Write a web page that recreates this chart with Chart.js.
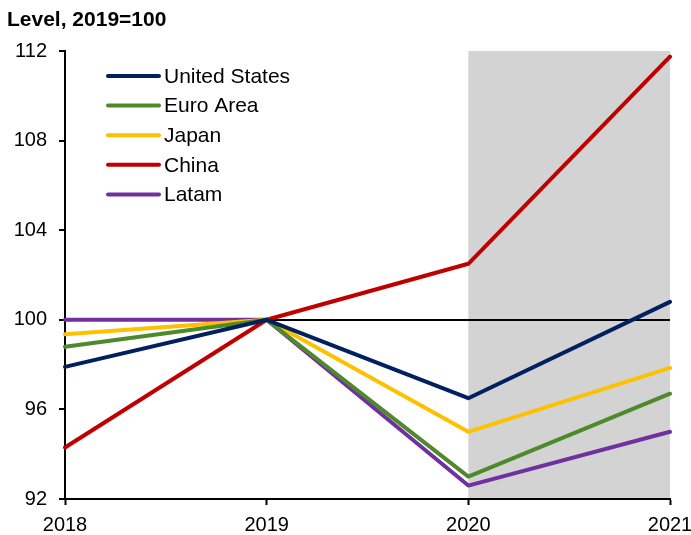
<!DOCTYPE html>
<html>
<head>
<meta charset="utf-8">
<script src="https://cdn.jsdelivr.net/npm/chart.js@4/dist/chart.umd.min.js"></script>
<style>
  html, body { margin: 0; padding: 0; background: #fff; }
  #wrap { width: 691px; height: 535px; }
</style>
</head>
<body>
<div id="wrap"><canvas id="levels"></canvas></div>
<script>
// Years on the x axis and the shaded forecast window
const years = ['2018', '2019', '2020', '2021'];
const shaded = ['2020', '2021'];

// Output levels, 2019 = 100
const unitedStates = [97.9, 100, 96.5, 100.8];
const euroArea = [98.8, 100, 93.0, 96.7];
const japan = [99.35, 100, 95.0, 97.85];
const china = [94.3, 100, 102.5, 111.75];
const latam = [100, 100, 92.6, 95.0];

const seriesNames = ['United States', 'Euro Area', 'Japan', 'China', 'Latam'];
const seriesColors = ['#002060', '#4E8A2B', '#FFC000', '#C00000', '#7030A0'];
const seriesValues = [unitedStates, euroArea, japan, china, latam];

// y axis ticks
const yTicks = [92, 96, 100, 104, 108, 112];

const FONT = '"Liberation Sans", Arial, sans-serif';

// grey band behind the forecast years (drawn before the grid so the 100 line stays on top)
const bandPlugin = {
  id: 'band',
  beforeDraw(chart) {
    const { ctx, chartArea, scales } = chart;
    const x0 = scales.x.getPixelForValue(years.indexOf(shaded[0]));
    const x1 = scales.x.getPixelForValue(years.indexOf(shaded[1]));
    ctx.save();
    ctx.fillStyle = '#D3D3D3';
    ctx.fillRect(x0, chartArea.top, x1 - x0, chartArea.bottom - chartArea.top);
    ctx.restore();
  }
};

// title above the axis and the legend inside the plot
const textPlugin = {
  id: 'texts',
  afterDraw(chart) {
    const ctx = chart.ctx;
    ctx.save();
    ctx.fillStyle = '#000';
    ctx.font = 'bold 21px ' + FONT;
    ctx.textBaseline = 'alphabetic';
    ctx.textAlign = 'left';
    ctx.fillText('Level, 2019=100', 7, 26);

    ctx.font = '21px ' + FONT;
    ctx.textBaseline = 'middle';
    chart.data.datasets.forEach((ds, i) => {
      const y = 76 + i * 29.6;
      ctx.strokeStyle = ds.borderColor;
      ctx.lineWidth = 4;
      ctx.lineCap = 'round';
      ctx.beginPath();
      ctx.moveTo(108, y);
      ctx.lineTo(159, y);
      ctx.stroke();
      ctx.fillStyle = '#000';
      ctx.fillText(ds.label, 164, y + 1);
    });
    ctx.restore();
  }
};

new Chart(document.getElementById('levels'), {
  type: 'line',
  data: {
    labels: years,
    datasets: seriesNames.map((name, i) => ({
      label: name,
      data: seriesValues[i],
      borderColor: seriesColors[i],
      backgroundColor: seriesColors[i],
      borderWidth: 4,
      borderCapStyle: 'round',
      borderJoinStyle: 'round',
      pointRadius: 0,
      tension: 0
    }))
  },
  options: {
    responsive: true,
    maintainAspectRatio: false,
    animation: false,
    layout: { padding: { left: 0, top: 51, right: 0, bottom: 0 } },
    plugins: {
      legend: { display: false },
      tooltip: { enabled: false }
    },
    scales: {
      x: {
        offset: false,
        afterFit(scale) {
          scale.height = 36;
          scale.paddingLeft = 0;
          scale.paddingRight = 21;
        },
        grid: {
          drawOnChartArea: false,
          tickLength: 6,
          tickColor: '#000',
          tickWidth: 2
        },
        border: { color: '#000', width: 2 },
        ticks: {
          color: '#000',
          font: { family: FONT, size: 20 },
          padding: 8,
          maxRotation: 0
        }
      },
      y: {
        min: 92,
        max: 112,
        afterFit(scale) { scale.width = 65; },
        afterBuildTicks(scale) {
          scale.ticks = yTicks.map(v => ({ value: v }));
        },
        grid: {
          color: c => (c.tick && c.tick.value === 100 ? '#000' : 'rgba(0,0,0,0)'),
          lineWidth: 2,
          tickLength: 6,
          tickColor: '#000',
          tickWidth: 2
        },
        border: { color: '#000', width: 2 },
        ticks: {
          color: '#000',
          font: { family: FONT, size: 20 },
          padding: 12
        }
      }
    }
  },
  plugins: [bandPlugin, textPlugin]
});
</script>
</body>
</html>
